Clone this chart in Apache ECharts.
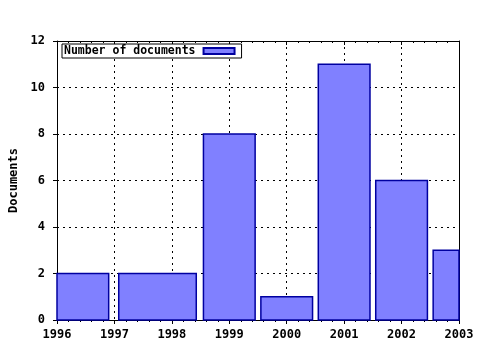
<!DOCTYPE html>
<html><head><meta charset="utf-8">
<script src="https://cdn.jsdelivr.net/npm/echarts@6/dist/echarts.min.js"></script>
<style>html,body{margin:0;padding:0;background:#fff}#c{width:480px;height:350px}</style>
</head><body><div id="c"></div>
<script>
const years = [1996, 1998, 1999, 2000, 2001, 2002, 2003];
const docs = [2, 2, 8, 1, 11, 6, 3];
const seriesName = 'Number of documents';
const yTitle = 'Documents';
const xMin = 1996, xMax = 2003;
const yMin = 0, yMax = 12, yStep = 2;
const boxRel = 0.9;

// gnuplot-style auto box widths: halfway to neighbours, scaled relatively
const boxes = years.map((y, i) => {
  const lh = i > 0 ? (y - years[i - 1]) / 2 : (years[i + 1] - y) / 2;
  const rh = i < years.length - 1 ? (years[i + 1] - y) / 2 : (y - years[i - 1]) / 2;
  const l = y - lh, r = y + rh;
  const c = (l + r) / 2, w = (r - l) * boxRel;
  return [c - w / 2, c + w / 2, docs[i]];
});

const font = '"DejaVu Sans Mono", "Liberation Mono", monospace';
const chart = echarts.init(document.getElementById('c'), null, {renderer: 'canvas'});
chart.setOption({
  animation: false,
  backgroundColor: '#fff',
  grid: {left: 57, right: 21, top: 41, bottom: 30, show: false, containLabel: false, outerBoundsMode: 'none'},
  legend: {
    show: true,
    left: 62, top: 44,
    orient: 'horizontal',
    align: 'right',
    icon: 'rect',
    itemWidth: 31, itemHeight: 6,
    padding: [1, 6, 1, 2],
    borderColor: '#000', borderWidth: 1,
    backgroundColor: '#fff',
    textStyle: {fontFamily: font, fontWeight: 'bold', fontSize: 11.5, color: '#000', padding: [0, 3, 0, 0]},
    data: [seriesName]
  },
  xAxis: [{
    type: 'value', min: xMin, max: xMax, interval: 1, position: 'bottom',
    axisLine: {show: true, onZero: false, lineStyle: {color: '#000', width: 1}},
    axisTick: {show: true, inside: false, length: 4, lineStyle: {color: '#000'}},
    minorTick: {show: true, splitNumber: 5, length: 2, lineStyle: {color: '#000'}},
    axisLabel: {fontFamily: font, fontWeight: 'bold', fontSize: 12, color: '#000', margin: 9,
      formatter: v => String(v)},
    splitLine: {show: true, lineStyle: {color: '#000', type: [2, 4], width: 1}}
  }, {
    type: 'value', min: xMin, max: xMax, interval: 1, position: 'top',
    axisLine: {show: true, onZero: false, lineStyle: {color: '#000', width: 1}},
    axisTick: {show: true, inside: true, length: 4, lineStyle: {color: '#000'}},
    minorTick: {show: true, splitNumber: 5, length: 2, lineStyle: {color: '#000'}},
    axisLabel: {show: false},
    splitLine: {show: false}
  }],
  yAxis: [{
    type: 'value', min: yMin, max: yMax, interval: yStep, position: 'left',
    name: yTitle, nameLocation: 'middle', nameGap: 37, nameRotate: 90,
    nameTextStyle: {fontFamily: font, fontWeight: 'bold', fontSize: 12, color: '#000'},
    axisLine: {show: true, onZero: false, lineStyle: {color: '#000', width: 1}},
    axisTick: {show: true, inside: false, length: 4, lineStyle: {color: '#000'}},
    axisLabel: {fontFamily: font, fontWeight: 'bold', fontSize: 12, color: '#000', margin: 12},
    splitLine: {show: true, lineStyle: {color: '#000', type: [2, 4], width: 1}}
  }, {
    type: 'value', min: yMin, max: yMax, interval: yStep, position: 'right',
    axisLine: {show: true, onZero: false, lineStyle: {color: '#000', width: 1}},
    axisTick: {show: false}, axisLabel: {show: false}, splitLine: {show: false}
  }],
  series: [{
    name: seriesName,
    type: 'custom',
    xAxisIndex: 0, yAxisIndex: 0,
    itemStyle: {color: '#8080ff', borderColor: '#0000a0', borderWidth: 1.5},
    encode: {x: [0, 1], y: 2},
    data: boxes,
    z: 1,
    renderItem: function (params, api) {
      const p0 = api.coord([api.value(0), 0]);
      const p1 = api.coord([api.value(1), api.value(2)]);
      const cs = params.coordSys;
      const rect = echarts.graphic.clipRectByRect(
        {x: p0[0], y: p1[1], width: p1[0] - p0[0], height: p0[1] - p1[1]},
        {x: cs.x, y: cs.y, width: cs.width, height: cs.height});
      if (!rect) return null;
      return {type: 'rect', shape: rect,
        style: {fill: '#8080ff', stroke: '#0000a0', lineWidth: 1.5}};
    }
  }]
});
</script></body></html>
